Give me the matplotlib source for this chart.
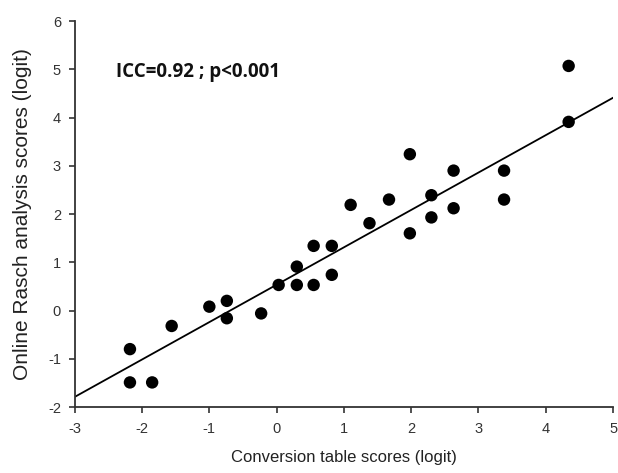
import matplotlib
matplotlib.use("Agg")
import matplotlib.pyplot as plt
import numpy as np

plt.rcParams["axes.unicode_minus"] = False

conversion = [-2.18, -2.18, -1.85, -1.56, -1.00, -0.74, -0.74, -0.23, 0.03, 0.30,
              0.30, 0.55, 0.55, 0.82, 0.82, 1.10, 1.38, 1.67, 1.98, 1.98,
              2.30, 2.30, 2.63, 2.63, 3.38, 3.38, 4.34, 4.34]
online = [-0.80, -1.49, -1.49, -0.32, 0.08, 0.20, -0.16, -0.06, 0.53, 0.91,
          0.53, 1.34, 0.53, 1.34, 0.74, 2.19, 1.81, 2.30, 3.24, 1.60,
          2.39, 1.93, 2.90, 2.12, 2.90, 2.30, 5.07, 3.91]
line_x = [-3, 5]
line_y = [-1.79, 4.41]
annotation = "ICC=0.92 ; p<0.001"
xticks = [-3, -2, -1, 0, 1, 2, 3, 4, 5]
yticks = [-2, -1, 0, 1, 2, 3, 4, 5, 6]

fig = plt.figure(figsize=(6.18, 4.73), dpi=100)
ax = fig.add_axes([0.121, 0.1395, 0.871, 0.816])
ax.plot(line_x, line_y, color="black", lw=1.3, zorder=2)
ax.scatter(conversion, online, s=80, color="black", zorder=3, edgecolors="none")
ax.set_xlim(-3, 5)
ax.set_ylim(-2, 6)
ax.set_xticks(xticks)
ax.set_yticks(yticks)
for s in ["top", "right"]:
    ax.spines[s].set_visible(False)
for s in ["left", "bottom"]:
    ax.spines[s].set_linewidth(1.3)
    ax.spines[s].set_color("#333333")
ax.tick_params(direction="out", length=4, width=1.2, color="#333333",
               labelsize=10.5, labelcolor="#333333")
ax.tick_params(axis="x", pad=7)
ax.tick_params(axis="y", pad=6)
for lab in ax.get_xticklabels() + ax.get_yticklabels():
    lab.set_family("Liberation Sans")
ax.set_xlabel("Conversion table scores (logit)", fontsize=12,
              family="Liberation Sans", color="#222222", labelpad=10)
ax.set_ylabel("Online Rasch analysis scores (logit)", fontsize=15,
              family="Liberation Sans", color="#222222")
ax.yaxis.set_label_coords(-0.08, 0.5)
ax.text(-2.38, 4.95, annotation, fontsize=13.5, fontweight="bold",
        family="Open Sans", color="#111111", va="center", ha="left")
fig.savefig("out.png", dpi=100)
